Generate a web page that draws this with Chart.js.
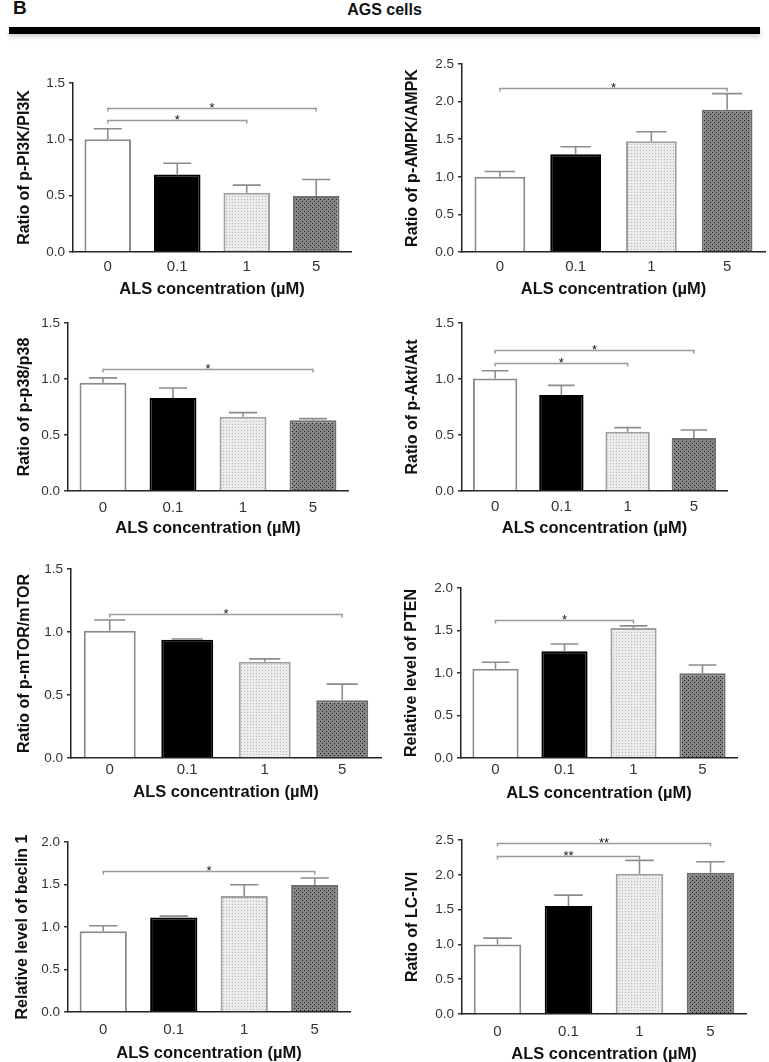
<!DOCTYPE html>
<html>
<head>
<meta charset="utf-8">
<title>AGS cells</title>
<script src="https://cdn.jsdelivr.net/npm/chart.js@4.4.1/dist/chart.umd.min.js"></script>
<style>
  body {
    margin: 0;
    background: #fff;
    width: 769px;
    height: 1062px;
    position: relative;
    overflow: hidden;
    font-family: "Liberation Sans", Arial, sans-serif;
  }
  .letter { position: absolute; left: 13px; top: -3px; font-size: 19px; line-height: 22px; font-weight: bold; color: #111; }
  .header { position: absolute; left: 0; width: 769px; top: 0px; line-height: 20px; text-align: center; font-size: 16px; font-weight: bold; color: #111; }
  .rule { position: absolute; left: 9px; width: 751px; top: 27px; height: 7px; background: #000; box-shadow: 0 3px 4px rgba(0, 0, 0, 0.18); }
  canvas { position: absolute; }
</style>
</head>
<body>
<div class="letter">B</div>
<div class="header">AGS cells</div>
<div class="rule"></div>

<script>
const categories = ["0", "0.1", "1", "5"];
const xTitle = "ALS concentration (\u00b5M)";

// mean and SEM (upper error bar only)
const pi3kMean = [1.0, 0.688, 0.526, 0.497];
const pi3kSem = [0.094, 0.1, 0.068, 0.147];
const pi3kBrackets = [[0, 2, 1.174, "*"], [0, 3, 1.276, "*"]];

const ampkMean = [1.0, 1.3, 1.474, 1.89];
const ampkSem = [0.07, 0.1, 0.126, 0.216];
const ampkBrackets = [[0, 3, 2.186, "*"]];

const p38Mean = [0.966, 0.83, 0.664, 0.632];
const p38Sem = [0.044, 0.09, 0.036, 0.014];
const p38Brackets = [[0, 3, 1.088, "*"]];

const aktMean = [1.005, 0.857, 0.53, 0.474];
const aktSem = [0.068, 0.086, 0.036, 0.071];
const aktBrackets = [[0, 2, 1.139, "*"], [0, 3, 1.263, "*"]];

const mtorMean = [1.01, 0.938, 0.763, 0.459];
const mtorSem = [0.085, 0.006, 0.024, 0.127];
const mtorBrackets = [[0, 3, 1.142, "*"]];

const ptenMean = [1.05, 1.256, 1.528, 0.996];
const ptenSem = [0.076, 0.086, 0.027, 0.098];
const ptenBrackets = [[0, 2, 1.622, "*"]];

const beclinMean = [0.951, 1.112, 1.364, 1.494];
const beclinSem = [0.063, 0.016, 0.133, 0.083];
const beclinBrackets = [[0, 3, 1.654, "*"]];

const lc3Mean = [0.999, 1.55, 2.015, 2.029];
const lc3Sem = [0.091, 0.158, 0.192, 0.158];
const lc3Brackets = [[0, 2, 2.273, "**"], [0, 3, 2.452, "**"]];

// where each panel sits on the page
const panels = [
  { label: "Ratio of p-PI3K/PI3K", mean: pi3kMean, sem: pi3kSem, brackets: pi3kBrackets, max: 1.5,
    left: 0, axisX: 73, right: 351, top: 83, bottom: 252, titleX: 25, tickY: 14.4, xTitleY: 37.7 },
  { label: "Ratio of p-AMPK/AMPK", mean: ampkMean, sem: ampkSem, brackets: ampkBrackets, max: 2.5,
    left: 384, axisX: 462, right: 765, top: 64, bottom: 252, titleX: 412.3, tickY: 15, xTitleY: 37 },
  { label: "Ratio of p-p38/p38", mean: p38Mean, sem: p38Sem, brackets: p38Brackets, max: 1.5,
    left: 0, axisX: 68, right: 348, top: 323, bottom: 491, titleX: 25, tickY: 16.4, xTitleY: 37 },
  { label: "Ratio of p-Akt/Akt", mean: aktMean, sem: aktSem, brackets: aktBrackets, max: 1.5,
    left: 384, axisX: 462, right: 727, top: 323, bottom: 491, titleX: 412.3, tickY: 15.4, xTitleY: 37 },
  { label: "Ratio of p-mTOR/mTOR", mean: mtorMean, sem: mtorSem, brackets: mtorBrackets, max: 1.5,
    left: 0, axisX: 71, right: 381, top: 569, bottom: 758, titleX: 25, tickY: 12.3, xTitleY: 34.6 },
  { label: "Relative level of PTEN", mean: ptenMean, sem: ptenSem, brackets: ptenBrackets, max: 2.0,
    left: 384, axisX: 461, right: 737, top: 588, bottom: 758, titleX: 412, tickY: 12.3, xTitleY: 35.6 },
  { label: "Relative level of beclin 1", mean: beclinMean, sem: beclinSem, brackets: beclinBrackets, max: 2.0,
    left: 0, axisX: 68, right: 350, top: 842, bottom: 1012, titleX: 22.7, tickY: 18, xTitleY: 41.3 },
  { label: "Ratio of LC-IVI", mean: lc3Mean, sem: lc3Sem, brackets: lc3Brackets, max: 2.5,
    left: 384, axisX: 462, right: 746, top: 840, bottom: 1014, titleX: 412.3, tickY: 18, xTitleY: 40.3 },
];

const fontFamily = "'Liberation Sans', Arial, sans-serif";
const TOP_PAD = 20;
const X_AXIS_H = 60;
const CANVAS_W = 385;

function makePattern(base, dot, size, dots) {
  const c = document.createElement("canvas");
  c.width = size;
  c.height = size;
  const g = c.getContext("2d");
  g.fillStyle = base;
  g.fillRect(0, 0, size, size);
  g.fillStyle = dot;
  dots.forEach(function (d) {
    g.fillRect(d[0], d[1], 1, 1);
  });
  return g.createPattern(c, "repeat");
}

const lightPattern = makePattern("#ebebeb", "#b4b4b4", 3, [[1, 1]]);
const darkPattern = makePattern("#858585", "#1c1c1c", 4, [[0, 0], [2, 2]]);

function drawPanel(p) {
  const canvas = document.createElement("canvas");
  const height = p.bottom - p.top + TOP_PAD + X_AXIS_H;
  canvas.width = CANVAS_W;
  canvas.height = height;
  canvas.style.left = p.left + "px";
  canvas.style.top = p.top - TOP_PAD + "px";
  document.body.appendChild(canvas);

  // upper error bars + significance brackets
  const extras = {
    id: "extras",
    afterDatasetsDraw(chart) {
      const ctx = chart.ctx;
      const y = chart.scales.y;
      const bars = chart.getDatasetMeta(0).data;
      ctx.save();
      ctx.strokeStyle = "#8c8c8c";
      ctx.lineWidth = 1.6;
      bars.forEach(function (bar, i) {
        const y0 = y.getPixelForValue(p.mean[i]);
        const y1 = y.getPixelForValue(p.mean[i] + p.sem[i]);
        const half = bar.width * 0.3;
        ctx.beginPath();
        ctx.moveTo(bar.x, y0);
        ctx.lineTo(bar.x, y1);
        ctx.moveTo(bar.x - half, y1);
        ctx.lineTo(bar.x + half, y1);
        ctx.stroke();
      });

      ctx.strokeStyle = "#9a9a9a";
      ctx.lineWidth = 1.5;
      ctx.fillStyle = "#111";
      ctx.font = "13px " + fontFamily;
      ctx.textAlign = "center";
      ctx.textBaseline = "alphabetic";
      p.brackets.forEach(function (b) {
        const x1 = bars[b[0]].x;
        const x2 = bars[b[1]].x;
        const yy = Math.round(y.getPixelForValue(b[2])) + 0.5;
        ctx.beginPath();
        ctx.moveTo(x1, yy + 3);
        ctx.lineTo(x1, yy);
        ctx.lineTo(x2, yy);
        ctx.lineTo(x2, yy + 3);
        ctx.stroke();
        ctx.fillText(b[3], (x1 + x2) / 2, yy + 3);
      });
      ctx.restore();
    },
  };

  new Chart(canvas, {
    type: "bar",
    data: {
      labels: categories,
      datasets: [
        {
          data: p.mean,
          backgroundColor: ["#ffffff", "#000000", lightPattern, darkPattern],
          borderColor: ["#8a8a8a", "#000000", "#a0a0a0", "#6e6e6e"],
          borderWidth: 2,
          categoryPercentage: 1,
          barPercentage: 0.67,
        },
      ],
    },
    options: {
      responsive: false,
      animation: false,
      devicePixelRatio: 1,
      layout: {
        padding: { top: TOP_PAD, right: p.left + CANVAS_W - p.right, left: 0, bottom: 0 },
      },
      plugins: {
        legend: { display: false },
        tooltip: { enabled: false },
      },
      scales: {
        x: {
          grid: { display: false, drawTicks: false },
          border: { display: true, color: "#222", width: 1.5 },
          ticks: {
            color: "#333",
            font: { family: fontFamily, size: 15 },
            padding: p.tickY - 9,
          },
          title: {
            display: true,
            text: xTitle,
            color: "#111",
            font: { family: fontFamily, size: 16.5, weight: "bold" },
            padding: { top: 0, bottom: X_AXIS_H - 9.9 - p.xTitleY },
          },
          afterFit: function (scale) {
            scale.height = X_AXIS_H;
          },
        },
        y: {
          min: 0,
          max: p.max,
          grid: {
            display: true,
            drawOnChartArea: false,
            drawTicks: true,
            tickLength: 4,
            color: "#333",
            lineWidth: 1.5,
          },
          border: { display: true, color: "#222", width: 1.5 },
          ticks: {
            stepSize: 0.5,
            color: "#333",
            padding: 4,
            font: { family: fontFamily, size: 13.5 },
            callback: function (v) {
              return v.toFixed(1);
            },
          },
          title: {
            display: true,
            text: p.label,
            color: "#111",
            font: { family: fontFamily, size: 16, weight: "bold" },
            padding: { top: p.titleX - p.left - 9.6, bottom: 0 },
          },
          afterFit: function (scale) {
            scale.width = p.axisX - p.left;
          },
        },
      },
    },
    plugins: [extras],
  });
}

panels.forEach(drawPanel);
</script>
</body>
</html>
